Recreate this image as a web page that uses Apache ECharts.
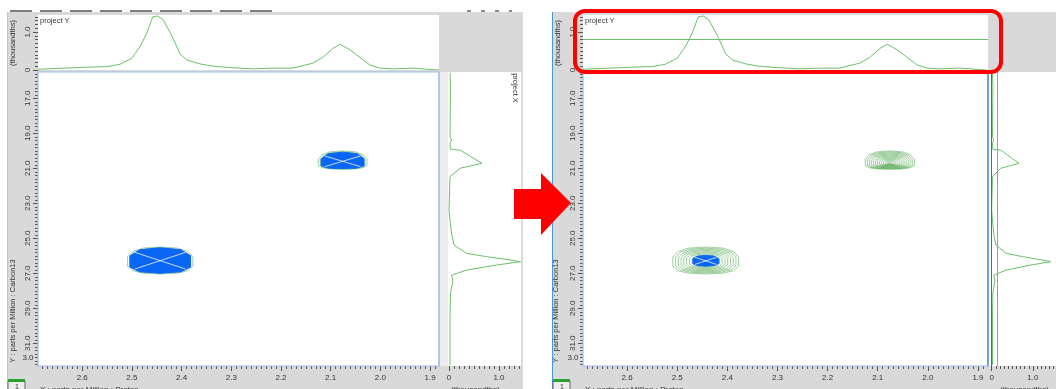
<!DOCTYPE html>
<html>
<head>
<meta charset="utf-8">
<script src="https://cdn.jsdelivr.net/npm/echarts@6/dist/echarts.min.js"></script>
<style>
  html, body { margin: 0; padding: 0; background: #fff; }
  #chart { width: 1056px; height: 389px; }
</style>
</head>
<body>
<div id="chart"></div>
<script>
// project Y (top projection): proton ppm / intensity (thousandths)
const topPpm = [2.689, 2.598, 2.55, 2.524, 2.5, 2.484, 2.47, 2.458, 2.448, 2.437, 2.419, 2.403, 2.389, 2.363, 2.337, 2.297,
  2.256, 2.216, 2.176, 2.136, 2.116, 2.095, 2.081, 2.061, 2.041, 2.021, 2.001, 1.975, 1.934, 1.906, 1.882];
const topVal = [0.02, 0.07, 0.09, 0.15, 0.31, 0.61, 0.97, 1.40, 1.42, 1.32, 0.88, 0.42, 0.26, 0.16, 0.10, 0.06,
  0.03, 0.05, 0.05, 0.18, 0.33, 0.57, 0.68, 0.53, 0.33, 0.13, 0.05, 0.03, 0.05, 0.02, 0.0];

// project X (side projection): carbon ppm / intensity
const sidePpm = [15.54, 16.34, 19.2, 19.39, 19.57, 19.92, 19.96, 20.72, 21.0, 21.48, 23.39, 24.24, 24.7, 25.39, 25.86,
  26.05, 26.24, 26.34, 26.53, 26.82, 27.11, 27.2, 27.39, 28.13, 29.55, 32.24];
const sideVal = [0.02, 0.03, 0.02, 0.05, 0.02, 0.03, 0.22, 0.66, 0.22, 0.02, 0.0, 0.03, 0.05, 0.1, 0.35,
  0.75, 1.22, 1.43, 0.95, 0.35, 0.05, 0.02, 0.08, 0.03, 0.02, 0.02];

// cross peaks (proton ppm, carbon ppm, half width in ppm, extent up / down in ppm)
const peakH = [2.443, 2.076];
const peakC = [26.3, 20.7];
const peakHalfW = [0.067, 0.05];
const peakUp = [0.8, 0.69];
const peakDown = [0.74, 0.36];
// part of each peak above the threshold (blue), before / after
const fillBefore = [0.95, 0.9];
const fillAfter = [0.4, 0];
const contourCount = 12;

// thresholds shown in the second view
const thresholdTop = 0.81;
const thresholdSide = 0.14;

// tick labels
const hTicks = [2.6, 2.5, 2.4, 2.3, 2.2, 2.1, 2.0, 1.9];
const cTicks = [17, 19, 21, 23, 25, 27, 29, 31];
const iTicks = [0, 1.0];

const hMinor = []; for (let v = 189; v <= 268; v++) hMinor.push(v / 100);
const cMinor = []; for (let v = 78; v <= 161; v++) cMinor.push(v / 5);
const iMinor = []; for (let v = 0; v <= 15; v++) iMinor.push(v / 10);

const FONT = 'Liberation Sans';
const TICK = '#555';
const GREEN = '#6cbf6c';

function axis(o) {
  return {
    type: 'value',
    gridIndex: o.grid,
    min: o.min, max: o.max,
    inverse: !!o.inverse,
    position: o.pos,
    show: o.show !== false,
    z: 3,
    axisLine: { show: false },
    splitLine: { show: false },
    axisTick: { show: !!o.ticks, customValues: o.ticks, length: o.len || 3, lineStyle: { color: TICK, width: 1 } },
    axisLabel: {
      show: !!o.labels, customValues: o.labels, margin: o.margin || 6, rotate: o.rotate || 0,
      color: '#333', fontSize: 8, fontFamily: FONT,
      formatter: v => (v === 0 ? '0' : v.toFixed(1))
    }
  };
}

const grids = [
  { left: 38, top: 15, width: 401, height: 55 },
  { left: 38, top: 72, width: 401, height: 294 },
  { left: 440, top: 72, width: 81, height: 294 },
  { left: 583, top: 15, width: 405, height: 55 },
  { left: 583, top: 72, width: 405, height: 294 },
  { left: 990, top: 72, width: 80, height: 294 }
];

const xAxes = [
  axis({ grid: 0, min: 1.882, max: 2.689, inverse: true, show: false }),
  axis({ grid: 1, min: 1.882, max: 2.689, inverse: true, pos: 'bottom', ticks: hMinor, len: 3 }),
  axis({ grid: 1, min: 1.882, max: 2.689, inverse: true, pos: 'bottom', ticks: hTicks, labels: hTicks, len: 5, margin: 8 }),
  axis({ grid: 2, min: -0.18, max: 1.44, pos: 'bottom', ticks: iMinor, len: 3 }),
  axis({ grid: 2, min: -0.18, max: 1.44, pos: 'bottom', ticks: iTicks, labels: iTicks, len: 5, margin: 8 }),
  axis({ grid: 3, min: 1.88, max: 2.688, inverse: true, show: false }),
  axis({ grid: 4, min: 1.88, max: 2.688, inverse: true, pos: 'bottom', ticks: hMinor, len: 3 }),
  axis({ grid: 4, min: 1.88, max: 2.688, inverse: true, pos: 'bottom', ticks: hTicks, labels: hTicks, len: 5, margin: 8 }),
  axis({ grid: 5, min: -0.04, max: 1.56, pos: 'bottom', ticks: iMinor, len: 3 }),
  axis({ grid: 5, min: -0.04, max: 1.56, pos: 'bottom', ticks: iTicks, labels: iTicks, len: 5, margin: 8 })
];

const yAxes = [
  axis({ grid: 0, min: 0, max: 1.447, pos: 'left', ticks: iMinor.slice(0, 15), len: 3 }),
  axis({ grid: 0, min: 0, max: 1.447, pos: 'left', ticks: iTicks, labels: iTicks, len: 5, rotate: 90, margin: 6 }),
  axis({ grid: 1, min: 15.5, max: 32.3, inverse: true, pos: 'left', ticks: cMinor, len: 3 }),
  axis({ grid: 1, min: 15.5, max: 32.3, inverse: true, pos: 'left', ticks: cTicks, labels: cTicks, len: 5, rotate: 90, margin: 6 }),
  axis({ grid: 2, min: 15.5, max: 32.3, inverse: true, show: false }),
  axis({ grid: 3, min: 0, max: 1.447, pos: 'left', ticks: iMinor.slice(0, 15), len: 3 }),
  axis({ grid: 3, min: 0, max: 1.447, pos: 'left', ticks: iTicks, labels: iTicks, len: 5, rotate: 90, margin: 6 }),
  axis({ grid: 4, min: 15.5, max: 32.3, inverse: true, pos: 'left', ticks: cMinor, len: 3 }),
  axis({ grid: 4, min: 15.5, max: 32.3, inverse: true, pos: 'left', ticks: cTicks, labels: cTicks, len: 5, rotate: 90, margin: 6 }),
  axis({ grid: 5, min: 15.5, max: 32.3, inverse: true, show: false })
];

function topSeries(xi, yi, mark) {
  return {
    type: 'line', xAxisIndex: xi, yAxisIndex: yi, symbol: 'none', silent: true, z: 2,
    lineStyle: { color: GREEN, width: 1 },
    data: topPpm.map((p, i) => [p, topVal[i]]),
    markLine: mark == null ? undefined : {
      silent: true, symbol: 'none', label: { show: false },
      lineStyle: { color: GREEN, width: 1, type: 'solid' },
      data: [{ yAxis: mark }]
    }
  };
}

function sideSeries(xi, yi, mark) {
  const lines = [];
  if (mark != null) {
    lines.push({ xAxis: 0, lineStyle: { color: '#666', width: 1, type: 'solid' } });
    lines.push({ xAxis: mark });
  }
  return {
    type: 'line', xAxisIndex: xi, yAxisIndex: yi, symbol: 'none', silent: true, z: 2,
    lineStyle: { color: GREEN, width: 1 },
    data: sideVal.map((v, i) => [v, sidePpm[i]]),
    markLine: lines.length ? {
      silent: true, symbol: 'none', label: { show: false },
      lineStyle: { color: GREEN, width: 1, type: 'solid' },
      data: lines
    } : undefined
  };
}

function contourSeries(xi, yi, fill) {
  return {
    type: 'custom', xAxisIndex: xi, yAxisIndex: yi, silent: true, z: 2,
    clip: true,
    data: peakH.map((h, i) => [h, peakC[i], peakHalfW[i], peakUp[i], peakDown[i], fill[i]]),
    encode: { x: 0, y: 1 },
    renderItem: function (params, api) {
      const cx = api.value(0), cy = api.value(1), hw = api.value(2);
      const up = api.value(3), dn = api.value(4), f = api.value(5);
      const shape = (s, n) => {
        const pts = [];
        for (let k = 0; k < n; k++) {
          const t = ((k + 0.5) / n) * Math.PI * 2;
          const c = Math.cos(t), sn = Math.sin(t);
          const y = sn > 0 ? cy - up * s * Math.pow(sn, 0.8) : cy + dn * s * Math.pow(-sn, 0.6);
          pts.push(api.coord([cx + hw * s * Math.sign(c) * Math.pow(Math.abs(c), 0.8), y]));
        }
        return pts;
      };
      const children = [];
      for (let k = 0; k < contourCount; k++) {
        const s = 1 - k / contourCount;
        children.push({
          type: 'polygon', shape: { points: shape(s, 14) },
          style: { fill: null, stroke: 'rgba(50,150,50,0.6)', lineWidth: 0.8 }
        });
      }
      if (f > 0) {
        children.push({ type: 'polygon', shape: { points: shape(f, 10) }, style: { fill: '#0a66f5', stroke: '#0a66f5', lineWidth: 1 } });
        const a = api.coord([cx + hw * f * 0.8, cy - up * f * 0.65]);
        const b = api.coord([cx - hw * f * 0.8, cy + dn * f * 0.65]);
        const c = api.coord([cx - hw * f * 0.8, cy - up * f * 0.65]);
        const d = api.coord([cx + hw * f * 0.8, cy + dn * f * 0.65]);
        children.push({ type: 'line', shape: { x1: a[0], y1: a[1], x2: b[0], y2: b[1] }, style: { stroke: 'rgba(255,255,255,0.75)', lineWidth: 1 } });
        children.push({ type: 'line', shape: { x1: c[0], y1: c[1], x2: d[0], y2: d[1] }, style: { stroke: 'rgba(255,255,255,0.75)', lineWidth: 1 } });
      }
      return { type: 'group', children: children };
    }
  };
}

// window chrome around each view (drawn, not data)
function chrome(ox, plotW, panelR, edge, edgeColor) {
  const L = 38 + ox, R = L + plotW;
  const txt = (x, y, s, extra) => Object.assign({
    type: 'text', x: x, y: y, z: 6,
    style: Object.assign({ text: s, fill: '#333', fontSize: 8, fontFamily: FONT }, extra || {})
  });
  return [
    { type: 'rect', z: 0, shape: { x: ox + 7, y: 12, width: edge - ox - 7, height: 380 }, style: { fill: '#d9d9d9' } },
    { type: 'rect', z: 0, shape: { x: L, y: 15, width: plotW, height: 55 }, style: { fill: '#fff' } },
    { type: 'rect', z: 0, shape: { x: L, y: 72, width: plotW, height: 294 }, style: { fill: '#fff' } },
    { type: 'rect', z: 0, shape: { x: R + 1, y: 72, width: panelR - R - 1, height: 294 }, style: { fill: '#fff' } },
    { type: 'rect', z: 5, shape: { x: L, y: 72, width: plotW, height: 294 }, style: { fill: null, stroke: '#9dbdea', lineWidth: 1.2 } },
    { type: 'line', z: 5, shape: { x1: R, y1: 72, x2: R, y2: 366 }, style: { stroke: edgeColor, lineWidth: 1.5 } },
    { type: 'line', z: 5, shape: { x1: ox + 7.5, y1: 12, x2: ox + 7.5, y2: 389 }, style: { stroke: edgeColor, lineWidth: 1 } },
    txt(L + 2, 17, 'project Y', { fontSize: 7.5 }),
    txt(L + 2, 386, 'X : parts per Million : Proton', { fontSize: 8 }),
    txt(R + 12, 386, '(thousandths)', { fontSize: 8 }),
    txt(L - 10, 358, '3.0', { align: 'center', verticalAlign: 'middle' }),
    { type: 'rect', z: 5, shape: { x: ox + 8, y: 381, width: 17, height: 10 }, style: { fill: '#eee', stroke: '#666', lineWidth: 1 } },
    { type: 'rect', z: 6, shape: { x: ox + 8, y: 379, width: 17, height: 3 }, style: { fill: '#2ca02c' } },
    txt(ox + 15, 384, '1', { fontSize: 7 })
  ];
}

function rotText(x, y, s, rot) {
  return {
    type: 'text', x: x, y: y, rotation: rot, z: 6,
    style: { text: s, fill: '#333', fontSize: 7.5, fontFamily: FONT, align: 'center', verticalAlign: 'middle' }
  };
}

const graphics = [].concat(
  chrome(0, 401, 521, 523, '#a9c6ee'),
  chrome(545, 405, 1056, 1056, '#4f94e0'),
  [
    { type: 'line', z: 6, shape: { x1: 10, y1: 11, x2: 275, y2: 11 }, style: { stroke: '#555', lineWidth: 1.5, lineDash: [22, 8] } },
    { type: 'line', z: 6, shape: { x1: 467, y1: 11, x2: 512, y2: 11 }, style: { stroke: '#666', lineWidth: 1.5, lineDash: [4, 10] } },
    { type: 'rect', z: 0, shape: { x: 440, y: 72, width: 8, height: 294 }, style: { fill: '#ececec' } },
    rotText(13, 43, '(thousandths)', Math.PI / 2),
    rotText(558, 43, '(thousandths)', Math.PI / 2),
    rotText(13, 311, 'Y : parts per Million : Carbon13', Math.PI / 2),
    rotText(556, 311, 'Y : parts per Million : Carbon13', Math.PI / 2),
    rotText(515, 88, 'project X', -Math.PI / 2),
    rotText(1060, 88, 'project X', -Math.PI / 2),
    { type: 'rect', z: 20, shape: { x: 575, y: 11, width: 426, height: 61, r: 10 }, style: { fill: null, stroke: '#ff0000', lineWidth: 4 } },
    {
      type: 'polygon', z: 20,
      shape: { points: [[514, 189], [541, 189], [541, 173], [571, 203], [541, 235], [541, 219], [514, 219]] },
      style: { fill: '#ff0000' }
    }
  ]
);

const chart = echarts.init(document.getElementById('chart'), null, { renderer: 'canvas' });
chart.setOption({
  animation: false,
  backgroundColor: '#fff',
  grid: grids,
  xAxis: xAxes,
  yAxis: yAxes,
  graphic: { elements: graphics },
  series: [
    topSeries(0, 0, null),
    contourSeries(1, 2, fillBefore),
    sideSeries(3, 4, null),
    topSeries(5, 5, thresholdTop),
    contourSeries(6, 7, fillAfter),
    sideSeries(8, 9, thresholdSide)
  ]
});
</script>
</body>
</html>
